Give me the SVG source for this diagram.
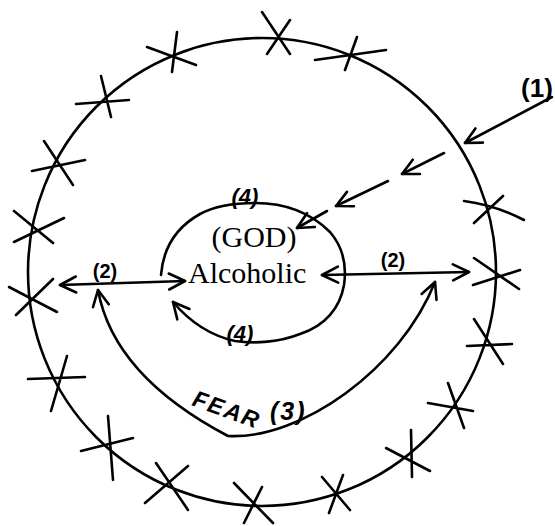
<svg xmlns="http://www.w3.org/2000/svg" width="555" height="526" viewBox="0 0 555 526">
<style>
.ln{fill:none;stroke:#000;stroke-width:2.6;stroke-linecap:round;stroke-linejoin:round}
.xm{fill:none;stroke:#000;stroke-width:2.6;stroke-linecap:round}
.serif{font-family:"Liberation Serif","Times New Roman",serif;font-size:30px;fill:#000}
.hand{font-family:"Liberation Sans",Arial,sans-serif;font-weight:bold;fill:#000}
.it{font-style:italic}
</style>
<defs>
<marker id="arr" viewBox="-18 -10 20 20" refX="0" refY="0" markerWidth="20" markerHeight="20" markerUnits="userSpaceOnUse" orient="auto-start-reverse">
<path d="M-16,-8 L0,0 L-16,8" fill="none" stroke="#000" stroke-width="2.6" stroke-linecap="round" stroke-linejoin="round"/>
</marker>
</defs>
<rect width="555" height="526" fill="#fff"/>
<g id="outer-circle">
<circle cx="262" cy="272" r="234" class="ln"/>
<path class="xm" d="M177,32L172,72M147,47L196,65 M262,12L290,54M290,20L267,54 M357,37L345,70M315,60L386,50 M101,76L111,117M76,104L129,100 M44,141L73,185M32,171L85,160 M14,211L53,243M14,242L64,218 M9,287L57,312M16,315L53,279 M28,379L85,377M67,356L51,411 M81,451L133,438M108,416L113,480 M156,463L188,510M145,503L188,466 M234,483L273,523M262,487L244,523 M322,477L350,510M343,475L329,513 M411,430L412,477M386,448L430,471 M428,403L473,411M448,383L464,428 M467,346L512,344M474,319L503,364 M474,258L519,289M473,285L520,270 M464,201Q495,205 524,220M474,223L503,196"/>
</g>
<g id="alcoholic">
<path class="ln" marker-end="url(#arr)" d="M161,275 C163,250 175,228 200,214 C215,206 235,203 255,203 C285,203 310,212 330,232 C342,246 347,265 344,285 C340,308 325,326 300,334 C280,342 255,344 235,341 C212,336 190,322 173,302"/>
<text class="serif" x="254" y="247" text-anchor="middle">(GOD)</text>
<text class="serif" x="188" y="283">Alcoholic</text>
<text class="hand it" x="245" y="204" font-size="22" text-anchor="middle">(4)</text>
<text class="hand it" x="240" y="341" font-size="22" text-anchor="middle">(4)</text>
</g>
<g id="connectors">
<path class="ln" marker-end="url(#arr)" d="M552,97 L465,143"/>
<path class="ln" marker-end="url(#arr)" d="M444,153 L402,174"/>
<path class="ln" marker-end="url(#arr)" d="M388,181 L336,206"/>
<path class="ln" marker-end="url(#arr)" d="M327,211 L297,228"/>
<path class="ln" marker-start="url(#arr)" marker-end="url(#arr)" d="M322,275 L469,272"/>
<path class="ln" marker-start="url(#arr)" marker-end="url(#arr)" d="M60,285 L185,281"/>
<path class="ln" marker-start="url(#arr)" marker-end="url(#arr)" d="M98,290 C108,345 150,395 228,436 C300,440 400,370 435,282"/>
</g>
<g id="labels">
<text class="hand" x="537" y="97" font-size="26" text-anchor="middle">(1)</text>
<text class="hand" x="105" y="278" font-size="20" text-anchor="middle">(2)</text>
<text class="hand" x="393" y="267" font-size="20" text-anchor="middle">(2)</text>
<text class="hand it" x="191" y="405" font-size="23" letter-spacing="2" transform="rotate(20 191 405)">FEAR</text>
<text class="hand it" x="270" y="420" font-size="25" letter-spacing="2">(3)</text>
</g>
</svg>
